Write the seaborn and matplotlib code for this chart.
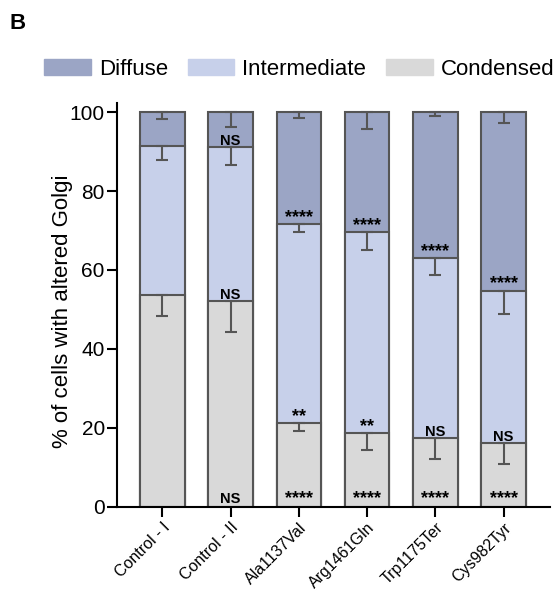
import numpy as np
import pandas as pd
import matplotlib
matplotlib.use('Agg')
import matplotlib.pyplot as plt
import matplotlib.patches as mpatches
import seaborn as sns

# values (% of cells)
groups = ['Control - I', 'Control - II', 'Ala1137Val', 'Arg1461Gln', 'Trp1175Ter', 'Cys982Tyr']
condensed = [53.7, 52.2, 21.1, 18.6, 17.5, 16.2]
intermediate = [37.8, 38.9, 50.6, 51.0, 45.6, 38.6]
diffuse = [8.5, 8.9, 28.3, 30.4, 36.9, 45.2]

# lower error bars (SEM, only drawn downwards)
condensed_err = [5.3, 8.0, 1.9, 4.2, 5.3, 5.4]
intermediate_err = [3.6, 4.5, 2.1, 4.5, 4.3, 5.9]
diffuse_err = [1.8, 3.7, 1.4, 4.3, 0.9, 2.8]

# significance labels
condensed_sig = ['', 'NS', '****', '****', '****', '****']
intermediate_sig = ['', 'NS', '**', '**', 'NS', 'NS']
diffuse_sig = ['', 'NS', '****', '****', '****', '****']

col_diffuse = '#9ba5c5'
col_inter = '#c7d0ea'
col_cond = '#d9d9d9'
edge = '#555555'

sns.set_style('ticks')
plt.rcParams['font.family'] = ['Liberation Sans', 'DejaVu Sans']
plt.rcParams['text.color'] = 'black'
plt.rcParams['axes.labelcolor'] = 'black'
plt.rcParams['xtick.color'] = 'black'
plt.rcParams['ytick.color'] = 'black'

df = pd.DataFrame({'group': groups, 'condensed': condensed,
                   'intermediate': intermediate, 'diffuse': diffuse})
df['top_cond'] = df['condensed']
df['top_inter'] = df['condensed'] + df['intermediate']
df['top_diff'] = df['top_inter'] + df['diffuse']

fig = plt.figure(figsize=(5.54, 5.93), dpi=100)
ax = fig.add_axes([0.2106, 0.1455, 0.7822, 0.6813])

# stacked bars drawn as overlapping cumulative bars
for col, c in [('top_diff', col_diffuse), ('top_inter', col_inter), ('top_cond', col_cond)]:
    sns.barplot(data=df, x='group', y=col, color=c, saturation=1, width=0.65,
                edgecolor=edge, linewidth=1.5, errorbar=None, ax=ax)

x = np.arange(len(groups))
for col, err in [('top_diff', diffuse_err), ('top_inter', intermediate_err), ('top_cond', condensed_err)]:
    ax.errorbar(x, df[col], yerr=[err, np.zeros(len(err))], fmt='none', ecolor=edge,
                elinewidth=1.5, capsize=4, capthick=1.5, zorder=5)

# significance text
for labels, base in [(diffuse_sig, df['top_inter']), (intermediate_sig, df['top_cond']),
                     (condensed_sig, np.zeros(len(groups)) + 0.5)]:
    for i, lab in enumerate(labels):
        if not lab:
            continue
        fs = 10.5 if lab == 'NS' else 13
        ax.text(i, base[i] + 0.5, lab, ha='center', va='baseline', fontsize=fs,
                fontweight='bold', zorder=6)

ax.set_xlim(-0.67, 5.68)
ax.set_ylim(0, 102.4)
ax.set_yticks([0, 20, 40, 60, 80, 100])
ax.set_xlabel('')
ax.set_ylabel('% of cells with altered Golgi', fontsize=16)
ax.yaxis.set_label_coords(-0.101, 0.484)
ax.tick_params(axis='both', direction='out', length=7, width=1.5, color='black')
ax.tick_params(axis='y', labelsize=15, pad=1.5)
ax.tick_params(axis='x', labelsize=11.5, pad=2.5)
ax.set_xticks(x)
ax.set_xticklabels(groups, rotation=45, ha='right', rotation_mode='anchor')
for s in ['left', 'bottom']:
    ax.spines[s].set_linewidth(1.5)
    ax.spines[s].set_color('black')
sns.despine(ax=ax)

handles = [mpatches.Patch(color=col_diffuse, label='Diffuse'),
           mpatches.Patch(color=col_inter, label='Intermediate'),
           mpatches.Patch(color=col_cond, label='Condensed')]
fig.legend(handles=handles, loc='center left', bbox_to_anchor=(0.0794, 0.8828), ncol=3,
           frameon=False, fontsize=16, handlelength=2.1, handleheight=0.76,
           handletextpad=0.36, columnspacing=0.9, borderpad=0, borderaxespad=0)

fig.text(0.018, 0.961, 'B', fontsize=16, fontweight='bold', va='center')

fig.savefig('out.png', dpi=100)
